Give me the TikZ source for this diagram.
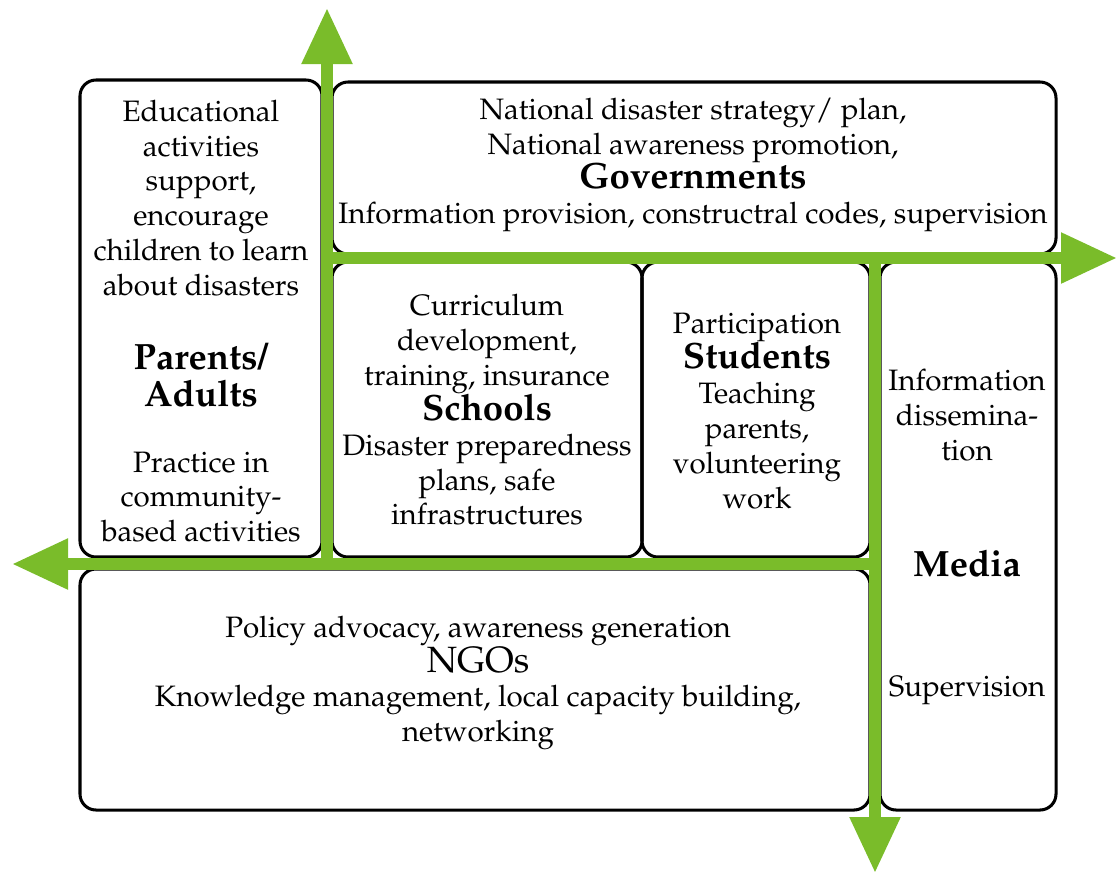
\documentclass[tikz,border=0pt]{standalone}
\usepackage[T1]{fontenc}
\usepackage{mathpazo}
\usepackage{tikz}
\usetikzlibrary{arrows.meta}

\definecolor{leaf}{RGB}{122,188,42}

\tikzset{
  box/.style={draw=black, line width=0.38mm, rounded corners=2mm},
  txt/.style={align=center, font=\fontsize{10.5}{12.4}\selectfont, inner sep=0pt},
  flow/.style={draw=leaf, line width=1.45mm, -{Triangle[width=6mm,length=7mm]}}
}
\newcommand{\actor}[1]{{\fontsize{13}{14}\selectfont\bfseries #1}}

\begin{document}
\begin{tikzpicture}[x=0.125mm,y=-0.125mm]
\useasboundingbox (0,0) rectangle (1118,874);
% the six fields
\draw[box] (80,80) rectangle (322,557);
\draw[box] (332,82) rectangle (1056,254);
\draw[box] (332,262) rectangle (642,557);
\draw[box] (642,262) rectangle (870,557);
\draw[box] (880,262) rectangle (1056,810);
\draw[box] (80,569) rectangle (870,810);

% crossing arrows
\coordinate (upL) at (327,564);
\coordinate (topL) at (327,8);
\coordinate (rgtT) at (327,258);
\coordinate (rgtE) at (1117,258);
\coordinate (lftS) at (875,564);
\coordinate (lftE) at (12,564);
\coordinate (dwnS) at (875,258);
\coordinate (dwnE) at (875,873);
\draw[flow] (upL) -- (topL);
\draw[flow] (rgtT) -- (rgtE);
\draw[flow] (lftS) -- (lftE);
\draw[flow] (dwnS) -- (dwnE);

% parents / adults
\node[txt] (parTop) at (201,198) {Educational\\activities\\support,\\encourage\\children to learn\\about disasters};
\node[txt] (parHd) at (201,375) {\actor{Parents/}\\[1pt]\actor{Adults}};
\node[txt] (parBot) at (201,497) {Practice in\\community-\\based activities};

% governments
\node[txt] (gov) at (693,165) {National disaster strategy/ plan,\\National awareness promotion,\\\actor{Governments}\\Information provision, constructral codes, supervision};

% schools
\node[txt] (sch) at (487,410) {Curriculum\\development,\\training, insurance\\\actor{Schools}\\Disaster preparedness\\plans, safe\\infrastructures};

% students
\node[txt] (stu) at (757,411) {Participation\\\actor{Students}\\Teaching\\parents,\\volunteering\\work};

% media
\node[txt] (medTop) at (967,415) {Information\\dissemina-\\tion};
\node[txt] (medHd) at (967,563) {\actor{Media}};
\node[txt] (medBot) at (967,690) {Supervision};

% ngos
\node[txt] (ngo) at (478,683) {Policy advocacy, awareness generation\\{\fontsize{13}{14}\selectfont NGOs}\\Knowledge management, local capacity building,\\networking};
\end{tikzpicture}
\end{document}
